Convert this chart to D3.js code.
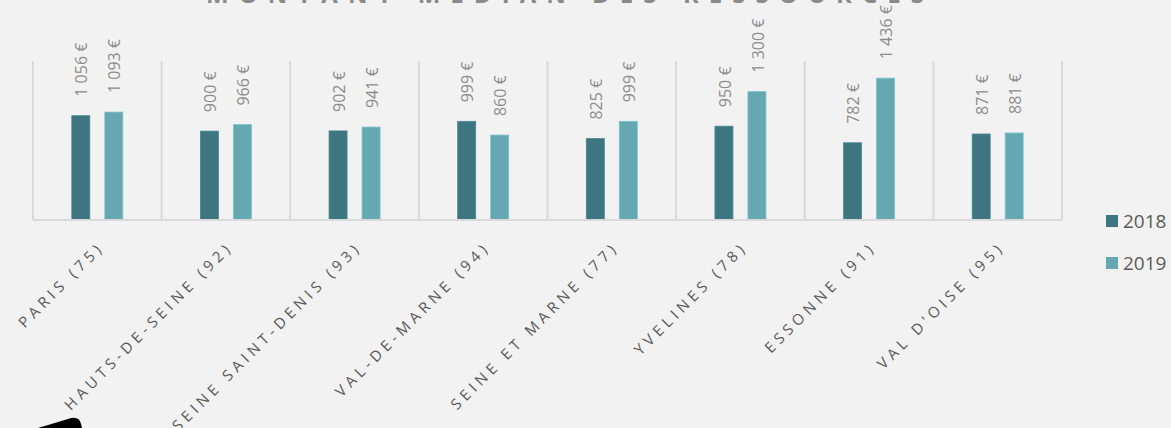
<!DOCTYPE html>
<html>
<head>
<meta charset="utf-8">
<script src="https://cdn.jsdelivr.net/npm/d3@7"></script>
<style>
  html, body { margin: 0; padding: 0; background: #f2f2f2; }
  svg { display: block; }
</style>
</head>
<body>
<svg id="chart" width="1171" height="428"></svg>
<script>
// Departments of Île-de-France
const categories = [
  "PARIS (75)", "HAUTS-DE-SEINE (92)", "SEINE SAINT-DENIS (93)", "VAL-DE-MARNE (94)",
  "SEINE ET MARNE (77)", "YVELINES (78)", "ESSONNE (91)", "VAL D'OISE (95)"
];
const seriesNames = ["2018", "2019"];
const values2018 = [1056, 900, 902, 999, 825, 950, 782, 871];
const values2019 = [1093, 966, 941, 860, 999, 1300, 1436, 881];
const colors = ["#3d7680", "#66a8b2"];
const title = "MONTANT MÉDIAN DES RESSOURCES";

const series = [values2018, values2019];
const svg = d3.select("#chart");

const plot = { left: 33, right: 1062, top: 62, bottom: 220 };

const x = d3.scaleBand().domain(categories).range([plot.left, plot.right]).padding(0);
const y = d3.scaleLinear().domain([0, 1600]).range([plot.bottom, plot.top]);

const fmt = v => d3.format(",")(v).replace(/,/g, " ") + " €";

// Title (top of the chart)
svg.append("text")
  .attr("x", 565).attr("y", 3)
  .attr("text-anchor", "middle")
  .attr("font-family", "Open Sans")
  .attr("font-size", 24)
  .attr("font-weight", "bold")
  .attr("textLength", 718)
  .attr("lengthAdjust", "spacing")
  .attr("fill", "#8a8a8a")
  .text(title);

// Category separators
const seps = categories.map(c => x(c)).concat([plot.right]);
svg.append("g").selectAll("line").data(seps).join("line")
  .attr("x1", d => d).attr("x2", d => d)
  .attr("y1", y(1600) - 1).attr("y2", plot.bottom)
  .attr("stroke", "#d9d9d9").attr("stroke-width", 2);

// Bars
const offsets = [-16.5, 16.5];
const barW = 18;
series.forEach((vals, si) => {
  const g = svg.append("g");
  g.selectAll("rect").data(vals).join("rect")
    .attr("x", (d, i) => x(categories[i]) + x.bandwidth() / 2 + offsets[si] - barW / 2)
    .attr("y", d => y(d))
    .attr("width", barW)
    .attr("height", d => y(0) - y(d))
    .attr("fill", colors[si])
    .attr("stroke", d3.color(colors[si]).brighter(0.4))
    .attr("stroke-width", 0.8);

  g.selectAll("text").data(vals).join("text")
    .attr("transform", (d, i) => {
      const cx = x(categories[i]) + x.bandwidth() / 2 + offsets[si] + 1;
      return `translate(${cx},${y(d) - 19}) rotate(-90)`;
    })
    .attr("dy", "0.35em")
    .attr("text-anchor", "start")
    .attr("font-family", "Open Sans")
    .attr("font-size", 16)
    .attr("fill", "#8c8c8c")
    .text(d => fmt(d));
});

// Baseline
svg.append("line")
  .attr("x1", plot.left).attr("x2", plot.right)
  .attr("y1", plot.bottom).attr("y2", plot.bottom)
  .attr("stroke", "#d9d9d9").attr("stroke-width", 2);

// Category labels
svg.append("g").selectAll("text").data(categories).join("text")
  .attr("transform", d => `translate(${x(d) + x.bandwidth() / 2 + 8},${plot.bottom + 28}) rotate(-45)`)
  .attr("text-anchor", "end")
  .attr("font-family", "Open Sans")
  .attr("font-size", 15)
  .attr("letter-spacing", 4.4)
  .attr("fill", "#595959")
  .text(d => d);

// Legend
const legend = svg.append("g").selectAll("g").data(seriesNames).join("g")
  .attr("transform", (d, i) => `translate(1106,${215 + i * 42})`);
legend.append("rect").attr("width", 12).attr("height", 12)
  .attr("fill", (d, i) => colors[i]);
legend.append("text")
  .attr("x", 17).attr("y", 6).attr("dy", "0.35em")
  .attr("font-family", "Open Sans")
  .attr("font-size", 19)
  .attr("fill", "#595959")
  .text(d => d);

// Dark rounded shape at the lower-left edge
svg.append("path")
  .attr("d", "M38,428 L68,419 Q79,415 81,424 L82,428 Z")
  .attr("fill", "#000");
</script>
</body>
</html>
